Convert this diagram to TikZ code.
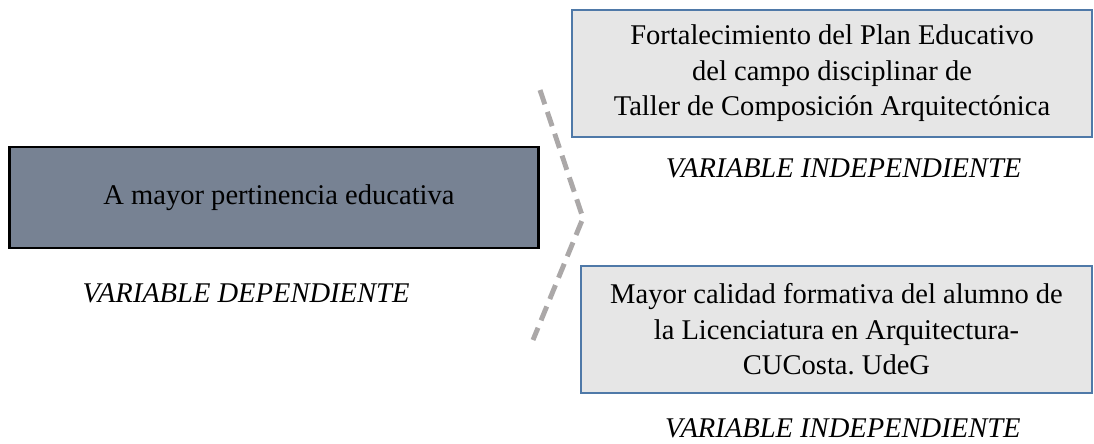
\documentclass[tikz,border=0pt]{standalone}
\usepackage{fontspec}
\setmainfont{Liberation Serif}
\usetikzlibrary{positioning}
\frenchspacing
\definecolor{depcolor}{HTML}{778293}
\definecolor{indepfill}{HTML}{E6E6E6}
\definecolor{indepline}{HTML}{4F79A8}
\definecolor{bracecolor}{HTML}{ABA8A8}

\begin{document}
\begin{tikzpicture}[x = 0.025cm, y = -0.025cm,
                    font = \fontsize{20.3}{25.3}\selectfont,
                    depbox/.style = {rectangle,
                                     draw = black,
                                     fill = depcolor,
                                     line width = 2.1pt,
                                     minimum width = 13.2cm,
                                     minimum height = 2.525cm},
                    indepbox/.style = {rectangle,
                                       draw = indepline,
                                       fill = indepfill,
                                       line width = 1.8pt,
                                       align = center,
                                       minimum height = 3.175cm},
                    varlabel/.style = {font = \fontsize{20.3}{25.3}\selectfont\itshape,
                                       inner sep = 0pt,
                                       outer sep = 0pt}]

\useasboundingbox (0,0) rectangle (1094,443);

\node[depbox] (dep) at (274,197.5) {\hspace*{0.25cm}A mayor pertinencia educativa};
\node[indepbox, minimum width = 13cm] (plan) at (832,73.5)
  {Fortalecimiento del Plan Educativo\\
   del campo disciplinar de\\
   Taller de Composición Arquitectónica};
\node[indepbox, minimum width = 12.775cm] (calidad) at (836.5,329.5)
  {Mayor calidad formativa del alumno de\\
   la Licenciatura en Arquitectura-\\
   CUCosta. UdeG};

\node[varlabel] (deplabel) [below = 0.85cm of dep, xshift = -0.7cm] {VARIABLE DEPENDIENTE};
\node[varlabel] (planlabel) [below = 0.5cm of plan, xshift = 0.29cm] {VARIABLE INDEPENDIENTE};
\node[varlabel] (calidadlabel) [below = 0.6cm of calidad, xshift = 0.16cm] {VARIABLE INDEPENDIENTE};

% dashed bracket between the two sides
\coordinate (bracetop) at (540,90);
\coordinate (bracetip) at (583,218);
\coordinate (bracebot) at (533,340);
\draw[bracecolor, line width = 3.5pt, dash pattern = on 10.7pt off 5.7pt]
  (bracetop) -- (bracetip) -- (bracebot);

\end{tikzpicture}
\end{document}
